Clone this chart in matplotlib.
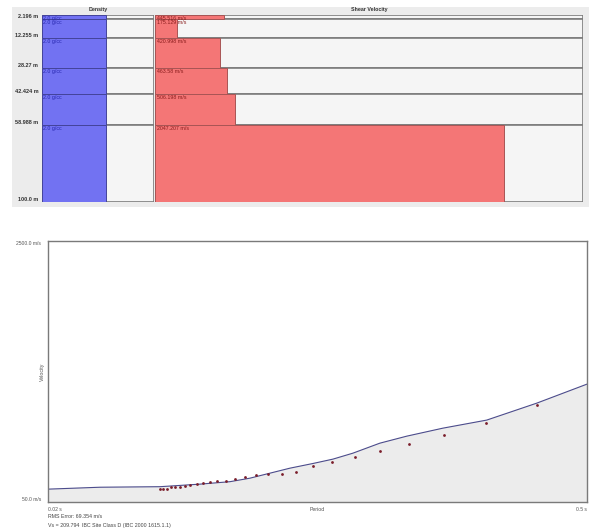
import matplotlib.pyplot as plt
from matplotlib.patches import Rectangle

plt.rcParams['font.family'] = ['Liberation Sans', 'DejaVu Sans']

# layer model
depths = [0.0, 2.196, 12.255, 28.27, 42.424, 58.988, 100.0]
depth_labels = ["2.196 m", "12.255 m", "28.27 m", "42.424 m", "58.988 m", "100.0 m"]
density = [2.0, 2.0, 2.0, 2.0, 2.0, 2.0]
vs = [445.516, 175.129, 420.998, 463.58, 506.198, 2047.207]

# dispersion: theoretical curve and measured points
curve_period = [0.02, 0.0663, 0.1197, 0.1553, 0.182, 0.1998, 0.2176, 0.2354, 0.2559,
                0.2737, 0.2915, 0.3155, 0.3395, 0.3716, 0.4107, 0.4552, 0.50]
curve_vel = [168, 186, 191, 215, 238, 271, 318, 365, 409,
             450, 506, 600, 666, 741, 817, 976, 1155]
obs_period = [0.1197, 0.1228, 0.1259, 0.1295, 0.1330, 0.1375, 0.1419, 0.1464, 0.1523,
              0.1582, 0.1642, 0.1707, 0.1784, 0.1864, 0.1953, 0.2049, 0.2161, 0.2280,
              0.2412, 0.2561, 0.2730, 0.2932, 0.3155, 0.3413, 0.3725, 0.4105, 0.4555]
obs_vel = [165, 165, 174, 184, 189, 189, 199, 205, 217,
           227, 236, 249, 249, 264, 283, 302, 306, 306,
           325, 387, 422, 466, 525, 594, 678, 791, 955]

W, H = 589, 529
fig = plt.figure(figsize=(W / 100, H / 100), dpi=100)
fig.patch.set_facecolor('white')


def px_axes(x0, y0, x1, y1):
    return fig.add_axes([x0 / W, 1 - y1 / H, (x1 - x0) / W, (y1 - y0) / H])


# grey panel behind the layer view
fig.patches.append(Rectangle((12 / W, 1 - 207 / H), (589 - 12) / W, 200 / H,
                             transform=fig.transFigure, facecolor='#ececec',
                             edgecolor='none', zorder=-5))

ax_d = px_axes(42.3, 14.9, 153.8, 201.7)
ax_v = px_axes(155.3, 14.9, 582.7, 201.7)


def draw_layers(ax, xmin, xmax, values, fill, edge, txt_color, fmt):
    ax.set_xlim(xmin, xmax)
    ax.set_ylim(depths[-1], depths[0])
    for i in range(len(values)):
        top, bot = depths[i], depths[i + 1]
        box = Rectangle((xmin, top), xmax - xmin, bot - top, facecolor='#f5f5f5',
                        edgecolor='#7c7c7c', lw=1.2, zorder=1)
        ax.add_patch(box)
        ax.add_patch(Rectangle((xmin, top), values[i] - xmin, bot - top,
                               facecolor=fill, edgecolor=edge, lw=0.7, zorder=2))
        t = ax.text(xmin + (xmax - xmin) * 0.005, top + 0.5, fmt(values[i]),
                    fontsize=3.8, color=txt_color, va='top', ha='left', zorder=3)
        t.set_clip_path(box)
    for s in ax.spines.values():
        s.set_visible(False)
    ax.set_xticks([])
    ax.patch.set_alpha(0)


draw_layers(ax_d, 0, 3.5, density, '#7272f2', '#44449a', '#2828b0',
            lambda v: f"{v} g/cc")
draw_layers(ax_v, 50, 2500, vs, '#f47676', '#a85555', '#8a1c1c',
            lambda v: f"{v} m/s")

ax_d.set_yticks(depths[1:])
ax_d.set_yticklabels(depth_labels, fontsize=4, fontweight='bold', color='#333333')
ax_d.tick_params(axis='y', length=0, pad=3)
for lab in ax_d.get_yticklabels():
    lab.set_va('bottom')
ax_v.set_yticks([])

fig.text(98 / W, 1 - 10 / H, "Density", fontsize=3.8, fontweight='bold',
         color='#333333', ha='center', va='center')
fig.text(369 / W, 1 - 10 / H, "Shear Velocity", fontsize=3.8, fontweight='bold',
         color='#333333', ha='center', va='center')

# dispersion curve
ax = px_axes(48, 241, 587, 501.7)
ax.set_xlim(0.02, 0.5)
ax.set_ylim(50, 2500)
ax.fill_between(curve_period, curve_vel, 50, color='#ececec', zorder=1)
ax.plot(curve_period, curve_vel, color='#4c4c8c', lw=0.8, zorder=2)
ax.scatter(obs_period, obs_vel, s=4, color='#7a1d2a', zorder=3, linewidths=0)
for s in ax.spines.values():
    s.set_color('#7a7a7a')
    s.set_linewidth(1.0)

ax.set_yticks([50, 2500])
ax.set_yticklabels(["50.0 m/s", "2500.0 m/s"], fontsize=3.6, color='#555555')
ax.get_yticklabels()[0].set_va('bottom')
ax.get_yticklabels()[1].set_va('top')
ax.set_xticks([0.02, 0.5])
ax.set_xticklabels(["0.02 s", "0.5 s"], fontsize=3.6, color='#555555')
ax.get_xticklabels()[0].set_ha('left')
ax.get_xticklabels()[1].set_ha('right')
ax.tick_params(length=0)
ax.tick_params(axis='y', pad=5)
ax.tick_params(axis='x', pad=4)

ax.set_xlabel("Period", fontsize=3.8, color='#555555', va='center')
ax.xaxis.set_label_coords(0.5, -0.031)
ax.set_ylabel("Velocity", fontsize=3.8, color='#555555', va='center')
ax.yaxis.set_label_coords(-0.011, 0.5)

fig.text(48 / W, 1 - 517 / H, "RMS Error: 69.354 m/s", fontsize=3.8,
         color='#444444', ha='left', va='center')
fig.text(48 / W, 1 - 525.5 / H, "Vs = 209.794", fontsize=3.8,
         color='#444444', ha='left', va='center')
fig.text(82.5 / W, 1 - 525.5 / H, "IBC Site Class D (IBC 2000 1615.1.1)", fontsize=3.8,
         color='#444444', ha='left', va='center')

fig.savefig("out.png", dpi=100)
